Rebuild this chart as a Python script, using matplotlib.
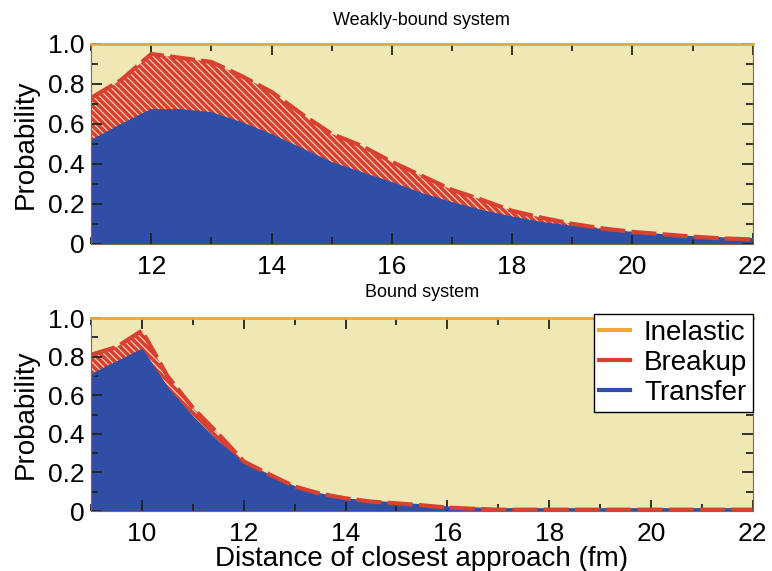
import matplotlib.pyplot as plt
from matplotlib.ticker import MultipleLocator

plt.rcParams['font.family'] = ['Liberation Sans', 'DejaVu Sans']
plt.rcParams['hatch.linewidth'] = 2.6
plt.rcParams['hatch.color'] = '#d8412f'

# Weakly-bound system
x_wb = [11, 11.5, 12, 12.5, 13, 13.5, 14, 14.5, 15, 15.5, 16, 16.5, 17, 17.5,
        18, 18.5, 19, 19.5, 20, 20.5, 21, 21.5, 22]
transfer_wb = [0.51, 0.59, 0.665, 0.665, 0.65, 0.60, 0.54, 0.47, 0.40, 0.35, 0.30,
               0.245, 0.20, 0.16, 0.128, 0.10, 0.082, 0.065, 0.051, 0.04, 0.03,
               0.024, 0.02]
total_wb = [0.73, 0.82, 0.95, 0.93, 0.91, 0.84, 0.76, 0.65, 0.55, 0.49, 0.41,
            0.34, 0.27, 0.22, 0.165, 0.13, 0.10, 0.077, 0.06, 0.048, 0.036,
            0.027, 0.022]

# Bound system
x_b = [9, 9.5, 10, 10.5, 11, 11.5, 12, 12.5, 13, 13.5, 14, 14.5, 15, 15.5, 16,
       16.5, 17, 17.5, 18, 18.5, 19, 19.5, 20, 20.5, 21, 21.5, 22]
transfer_b = [0.70, 0.765, 0.83, 0.63, 0.48, 0.35, 0.24, 0.18, 0.12, 0.083, 0.057,
              0.045, 0.036, 0.026, 0.015, 0.01, 0.006, 0.006, 0.006, 0.006, 0.006,
              0.006, 0.006, 0.006, 0.006, 0.006, 0.006]
total_b = [0.81, 0.85, 0.935, 0.70, 0.535, 0.40, 0.257, 0.19, 0.127, 0.09, 0.066,
           0.049, 0.04, 0.03, 0.018, 0.012, 0.007, 0.007, 0.007, 0.007, 0.007,
           0.007, 0.007, 0.007, 0.007, 0.007, 0.007]

c_bg = '#efe7b4'
c_inel = '#e8a83a'
c_red = '#d8412f'
c_blue = '#2e4fa5'


def panel(ax, x, transfer, total, xmin, title, tpad):
    ax.set_facecolor(c_bg)
    ax.fill_between(x, 0, transfer, color=c_blue, lw=0)
    ax.fill_between(x, transfer, total, facecolor='#f8dcc8', edgecolor=c_red,
                    hatch='\\\\\\\\\\', lw=0)
    ax.plot(x, transfer, color=c_blue, lw=2.5)
    ax.plot(x, total, color=c_red, lw=3, ls=(0, (6, 1.5)))
    ax.axhline(1.0, color=c_inel, lw=2, clip_on=False, zorder=5)
    ax.set_xlim(xmin, 22)
    ax.set_ylim(0, 1)
    ax.xaxis.set_major_locator(MultipleLocator(2))
    ax.xaxis.set_minor_locator(MultipleLocator(1))
    ax.yaxis.set_minor_locator(MultipleLocator(0.1))
    ax.set_yticks([0, 0.2, 0.4, 0.6, 0.8, 1.0])
    ax.set_yticklabels(['0', '0.2', '0.4', '0.6', '0.8', '1.0'])
    ax.tick_params(which='both', direction='in', top=True, right=True,
                   labelsize=19, width=1.3, color='#222222')
    ax.tick_params(axis='x', which='major', pad=8)
    ax.tick_params(axis='y', which='major', pad=5)
    ax.tick_params(which='major', length=8)
    ax.tick_params(which='minor', length=5)
    for s in ax.spines.values():
        s.set_color('#7a6a50')
        s.set_linewidth(0.8)
    ax.set_ylabel('Probability', fontsize=20, labelpad=6)
    ax.set_title(title, fontsize=13, pad=tpad)


fig = plt.figure(figsize=(7.72, 5.71), dpi=100)
ax1 = fig.add_axes([0.118, 0.573, 0.857, 0.350])
ax2 = fig.add_axes([0.118, 0.105, 0.857, 0.338])

panel(ax1, x_wb, transfer_wb, total_wb, 11, 'Weakly-bound system', 14)
panel(ax2, x_b, transfer_b, total_b, 9, 'Bound system', 15)
ax2.set_xlabel('Distance of closest approach (fm)', fontsize=20, labelpad=0)

h1, = ax2.plot([], [], color=c_inel, lw=3, label='Inelastic')
h2, = ax2.plot([], [], color=c_red, lw=3, label='Breakup')
h3, = ax2.plot([], [], color=c_blue, lw=3, label='Transfer')
leg = ax2.legend(handles=[h1, h2, h3], loc='upper right', fontsize=20,
                 frameon=True, fancybox=False, framealpha=1, borderaxespad=0,
                 handlelength=1.1, handletextpad=0.5, labelspacing=0.15,
                 borderpad=0.2, bbox_to_anchor=(1.0, 1.02))
leg.get_frame().set_edgecolor('black')
leg.get_frame().set_linewidth(1)
leg.set_zorder(10)

fig.savefig('out.png', dpi=100)
